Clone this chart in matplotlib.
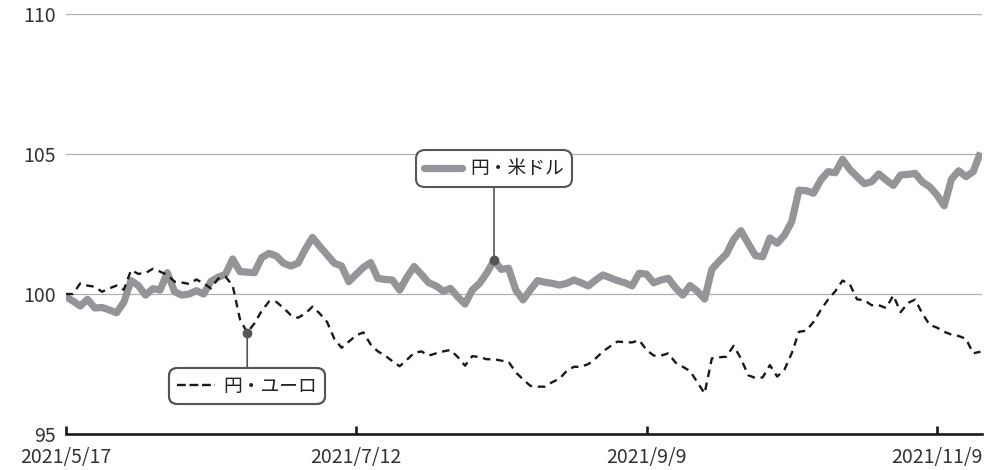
import matplotlib
matplotlib.use("Agg")
import matplotlib.pyplot as plt
from matplotlib.lines import Line2D
import pandas as pd

plt.rcParams['font.family'] = ['Noto Sans CJK JP', 'DejaVu Sans']

# ---- data ----
start_date = "2021-05-17"
jp_holidays = ["2021-07-22", "2021-07-23", "2021-08-09", "2021-09-20", "2021-09-23", "2021-11-03"]

usd_jpy = [
    99.9, 99.75, 99.57, 99.81, 99.5, 99.52, 99.43, 99.33, 99.7, 100.48,
    100.3, 99.96, 100.19, 100.14, 100.76, 100.08, 99.96, 100.0, 100.12, 100.0,
    100.45, 100.6, 100.7, 101.25, 100.8, 100.78, 100.76, 101.3, 101.45, 101.36,
    101.1, 101.0, 101.1, 101.6, 102.02, 101.7, 101.4, 101.1, 101.0, 100.44,
    100.7, 100.95, 101.12, 100.56, 100.52, 100.5, 100.14, 100.6, 100.98, 100.7,
    100.4, 100.29, 100.1, 100.2, 99.9, 99.64, 100.14, 100.38, 100.75, 101.2,
    100.88, 100.92, 100.14, 99.79, 100.15, 100.48, 100.42, 100.38, 100.32, 100.38,
    100.5, 100.4, 100.29, 100.5, 100.68, 100.58, 100.48, 100.4, 100.29, 100.74,
    100.71, 100.4, 100.5, 100.56, 100.22, 99.96, 100.3, 100.1, 99.82, 100.88,
    101.17, 101.43, 101.95, 102.26, 101.81, 101.37, 101.33, 102.0, 101.81, 102.1,
    102.58, 103.71, 103.69, 103.6, 104.07, 104.37, 104.33, 104.81, 104.45, 104.19,
    103.94, 104.01, 104.29, 104.07, 103.88, 104.25, 104.27, 104.31, 104.0, 103.83,
    103.54, 103.15, 104.1, 104.4, 104.19, 104.37, 105.05,
]

eur_jpy = [
    100.0, 100.0, 100.38, 100.3, 100.26, 100.08, 100.2, 100.3, 100.15, 100.85,
    100.72, 100.75, 100.9, 100.8, 100.68, 100.44, 100.41, 100.36, 100.52, 100.38,
    100.2, 100.55, 100.62, 100.3, 99.1, 98.62, 98.95, 99.4, 99.73, 99.72,
    99.5, 99.25, 99.15, 99.3, 99.55, 99.3, 99.0, 98.4, 98.08, 98.3,
    98.52, 98.63, 98.2, 97.95, 97.8, 97.6, 97.42, 97.65, 97.9, 97.95,
    97.8, 97.88, 97.95, 98.0, 97.75, 97.44, 97.78, 97.75, 97.67, 97.67,
    97.62, 97.58, 97.2, 96.95, 96.72, 96.69, 96.69, 96.85, 96.97, 97.25,
    97.4, 97.4, 97.5, 97.7, 97.95, 98.13, 98.3, 98.28, 98.27, 98.35,
    98.0, 97.8, 97.8, 97.88, 97.55, 97.4, 97.25, 96.85, 96.45, 97.7,
    97.74, 97.76, 98.15, 97.7, 97.1, 97.0, 97.02, 97.46, 97.05, 97.3,
    97.88, 98.65, 98.69, 99.0, 99.43, 99.8, 100.1, 100.48, 100.35, 99.81,
    99.78, 99.6, 99.6, 99.5, 99.95, 99.35, 99.68, 99.8, 99.3, 98.9,
    98.8, 98.65, 98.55, 98.5, 98.4, 97.88, 97.94,
]

series_labels = ["円・米ドル", "円・ユーロ"]
y_ticks = [95, 100, 105, 110]
x_tick_every = 40
usd_callout_idx = 59
eur_callout_idx = 25

# ---- build ----
dates = pd.bdate_range(start=start_date, periods=len(usd_jpy), freq="C", holidays=jp_holidays)
xs = list(range(len(usd_jpy)))

W, H = 994, 470
fig = plt.figure(figsize=(W / 100, H / 100), dpi=100)
ax = fig.add_axes([65.7 / W, 36 / H, (981.7 - 65.7) / W, 420 / H])

gray = "#939598"
dark = "#1a1a1a"
edge = "#555555"
txt = "#333333"
num_font = dict(family=["Noto Sans CJK JP", "DejaVu Sans"], size=14, weight="normal")

ax.set_xlim(0, 126.17)
ax.set_ylim(95, 110)

for y in y_ticks[1:]:
    ax.axhline(y, color="#b0b0b0", lw=0.9, zorder=1)

l_usd, = ax.plot(xs, usd_jpy, color=gray, lw=5.2, solid_joinstyle="round",
                 solid_capstyle="butt", zorder=3, label=series_labels[0])
l_eur, = ax.plot(xs, eur_jpy, color=dark, lw=1.7, linestyle=(0, (3.2, 2.4)),
                 zorder=4, label=series_labels[1])

for s in ["top", "right", "left"]:
    ax.spines[s].set_visible(False)
ax.spines["bottom"].set_linewidth(1.9)
ax.spines["bottom"].set_color(dark)
ax.spines["bottom"].set_zorder(5)

ax.set_yticks(y_ticks)
ax.set_yticklabels([str(v) for v in y_ticks], fontdict=num_font, color=txt)
ax.tick_params(axis="y", length=0, pad=7)

tick_pos = list(range(0, len(xs), x_tick_every))
ax.set_xticks(tick_pos)
ax.set_xticklabels([f"{dates[i].year}/{dates[i].month}/{dates[i].day}" for i in tick_pos],
                   fontdict=num_font, color=txt)
ax.tick_params(axis="x", direction="in", length=6, width=1.9, color=dark, pad=9)

# callouts
usd_box_y = 103.82
eur_box_y = 97.37

ax.annotate("", xy=(usd_callout_idx, usd_jpy[usd_callout_idx]), xytext=(usd_callout_idx, usd_box_y),
            arrowprops=dict(arrowstyle="-", color=edge, lw=1.2, shrinkA=0, shrinkB=0), zorder=6)
ax.plot([usd_callout_idx], [usd_jpy[usd_callout_idx]], "o", color=edge, ms=6, zorder=7)

ax.annotate("", xy=(eur_callout_idx, eur_jpy[eur_callout_idx]), xytext=(eur_callout_idx, eur_box_y),
            arrowprops=dict(arrowstyle="-", color=edge, lw=1.2, shrinkA=0, shrinkB=0), zorder=6)
ax.plot([eur_callout_idx], [eur_jpy[eur_callout_idx]], "o", color=edge, ms=6, zorder=7)

def box_legend(handle, label, anchor, loc):
    h = Line2D([], [], color=handle.get_color(), lw=handle.get_linewidth(),
               linestyle=handle.get_linestyle(), solid_capstyle="round")
    lg = ax.legend([h], [label], loc=loc, bbox_to_anchor=anchor,
                   bbox_transform=ax.transData, borderaxespad=0, frameon=True,
                   fancybox=True, prop=dict(size=13.5), labelcolor="#222222",
                   handlelength=2.0, handletextpad=0.45, borderpad=0.42,
                   framealpha=1.0, edgecolor=edge)
    fr = lg.get_frame()
    fr.set_linewidth(1.5)
    fr.set_boxstyle("round,pad=0,rounding_size=0.45")
    lg.set_zorder(8)
    ax.add_artist(lg)
    return lg

box_legend(l_usd, series_labels[0], (usd_callout_idx, usd_box_y), "lower center")
box_legend(l_eur, series_labels[1], (eur_callout_idx, eur_box_y), "upper center")

fig.savefig("out.png", dpi=100)
